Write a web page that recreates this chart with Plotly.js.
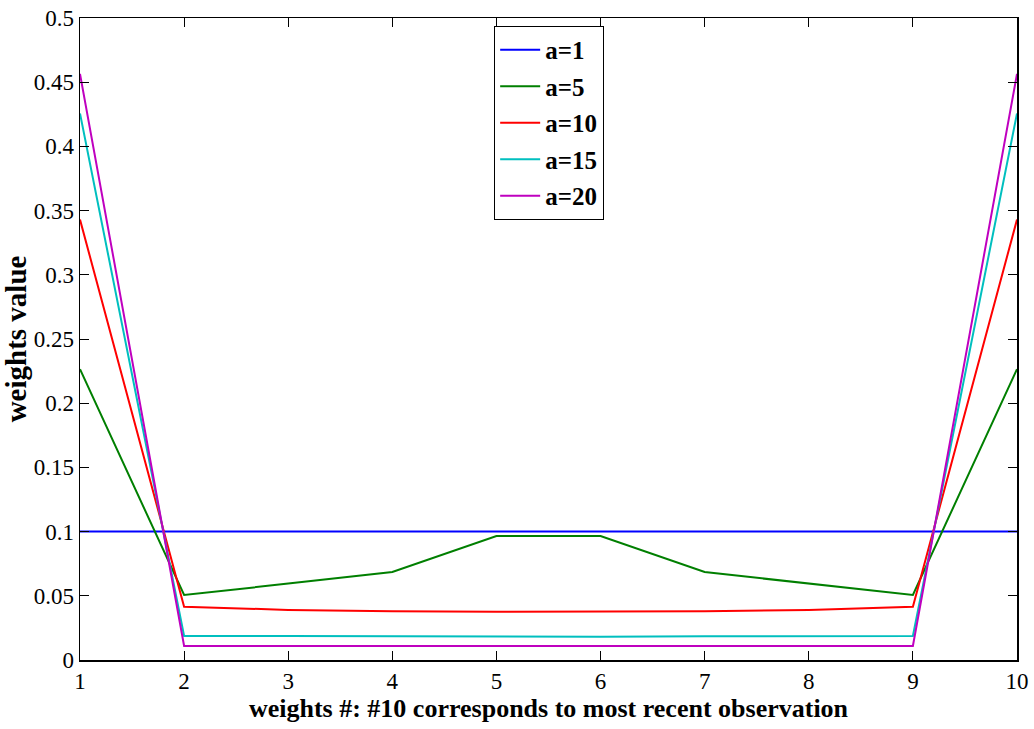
<!DOCTYPE html>
<html>
<head>
<meta charset="utf-8">
<script src="https://cdn.plot.ly/plotly-3.0.1.min.js"></script>
<style>html,body{margin:0;padding:0;background:#fff;}#chart{width:1034px;height:729px;}</style>
</head>
<body>
<div id="chart"></div>
<script>
const weightIndex = [1, 2, 3, 4, 5, 6, 7, 8, 9, 10];
const a1  = [0.1, 0.1, 0.1, 0.1, 0.1, 0.1, 0.1, 0.1, 0.1, 0.1];
const a5  = [0.2265, 0.0506, 0.0595, 0.0685, 0.0965, 0.0965, 0.0685, 0.0595, 0.0506, 0.2265];
const a10 = [0.343, 0.0415, 0.039, 0.038, 0.0376, 0.0376, 0.038, 0.039, 0.0415, 0.343];
const a15 = [0.4257, 0.0187, 0.0187, 0.0184, 0.0181, 0.0181, 0.0184, 0.0187, 0.0187, 0.4257];
const a20 = [0.4565, 0.0109, 0.0109, 0.0109, 0.0109, 0.0109, 0.0109, 0.0109, 0.0109, 0.4565];
const seriesNames = ["a=1", "a=5", "a=10", "a=15", "a=20"];
const seriesValues = [a1, a5, a10, a15, a20];
const seriesColors = ["#0000ff", "#007f00", "#ff0000", "#00bfbf", "#bf00bf"];
const yTicks = [0, 0.05, 0.1, 0.15, 0.2, 0.25, 0.3, 0.35, 0.4, 0.45, 0.5];
const yTickText = ["0", "0.05", "0.1", "0.15", "0.2", "0.25", "0.3", "0.35", "0.4", "0.45", "0.5"];

const traces = seriesValues.map((v, i) => ({
  x: weightIndex, y: v, type: "scatter", mode: "lines",
  name: seriesNames[i], legendgroup: "g" + i,
  line: {color: seriesColors[i], width: 2}
}));

const serif = "Liberation Serif, Times New Roman, serif";
const layout = {
  width: 1034, height: 729,
  margin: {l: 80, r: 17, t: 17.5, b: 69},
  paper_bgcolor: "#fff", plot_bgcolor: "#fff",
  showlegend: true,
  legend: {
    x: 0.4418, y: 0.988, xanchor: "left", yanchor: "top",
    bordercolor: "#000", borderwidth: 1.2, bgcolor: "#fff",
    font: {family: serif, size: 25, color: "#000", weight: "bold"},
    tracegroupgap: 1, itemwidth: 40
  },
  xaxis: {
    range: [1, 10], tickvals: weightIndex, ticks: "inside", ticklen: 9, tickwidth: 1,
    tickcolor: "#000", mirror: "ticks", showline: true, linecolor: "#000", linewidth: 1.5,
    showgrid: false, zeroline: false,
    tickfont: {family: serif, size: 23, color: "#000"},
    title: {text: "<b>weights #: #10 corresponds to most recent observation</b>", font: {family: serif, size: 26, color: "#000"}, standoff: 0}
  },
  yaxis: {
    range: [0, 0.5], tickvals: yTicks, ticktext: yTickText, ticks: "inside", ticklen: 9, tickwidth: 1,
    tickcolor: "#000", mirror: "ticks", showline: true, linecolor: "#000", linewidth: 1.5,
    showgrid: false, zeroline: false,
    tickfont: {family: serif, size: 23, color: "#000"},
    title: {text: "<b>weights value</b>", font: {family: serif, size: 29, color: "#000"}, standoff: 1}
  }
};
Plotly.newPlot("chart", traces, layout, {displayModeBar: false, staticPlot: true});
</script>
</body>
</html>
